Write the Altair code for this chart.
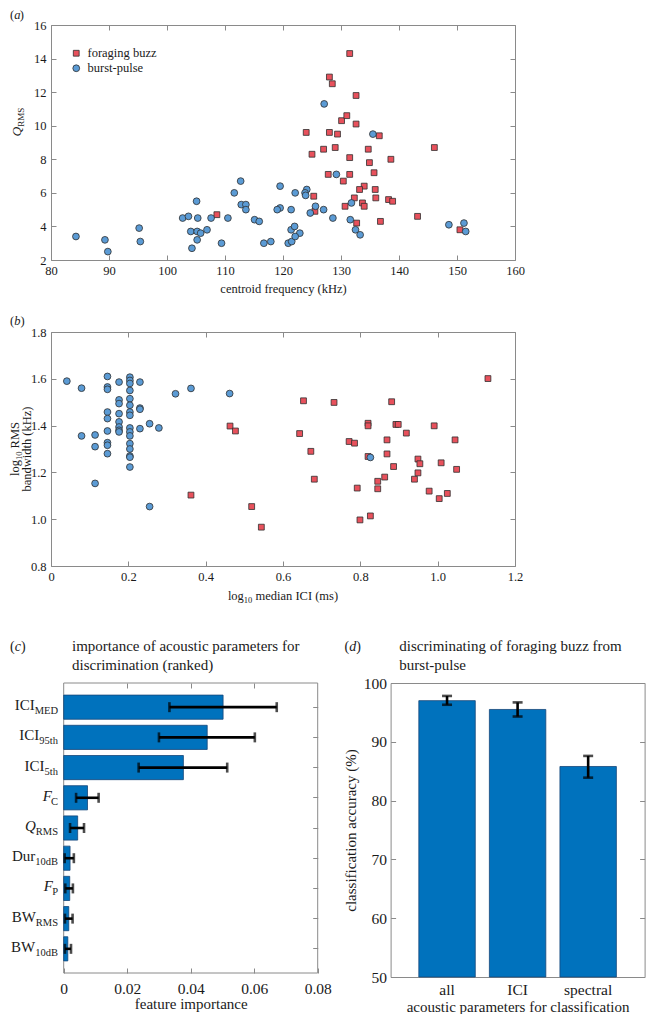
import altair as alt
import pandas as pd

# ---------------- data ----------------
# (a) centroid frequency (kHz) vs Q_RMS
fb_cf = [131.5, 128.0, 128.5, 132.6, 124.0, 128.0, 129.4, 130.1, 131.0, 132.6,
         136.6, 125.0, 127.0, 129.0, 131.5, 134.7, 138.6, 146.1, 134.9, 127.8,
         131.5, 130.4, 135.7, 134.0, 133.2, 135.9, 125.3, 132.3, 136.0, 138.2,
         138.9, 130.7, 133.7, 134.0, 108.6, 125.5, 143.2, 136.8, 132.7, 150.5]
fb_q = [14.3, 12.9, 12.5, 11.8, 9.6, 9.6, 9.5, 10.3, 10.6, 10.1,
        9.4, 8.3, 8.6, 8.7, 8.1, 8.6, 8.0, 8.7, 7.8, 7.1,
        7.1, 6.7, 7.2, 6.4, 6.2, 6.2, 5.8, 5.7, 5.7, 5.6,
        5.5, 5.2, 5.4, 5.2, 4.7, 4.9, 4.6, 4.3, 4.2, 3.8]
bp_cf = [84.3, 89.3, 89.8, 95.2, 95.4, 102.7, 103.7, 105.1, 105.3, 104.1,
         105.2, 105.8, 106.9, 105.2, 104.3, 107.6, 110.5, 109.4, 111.6, 112.7,
         112.8, 113.6, 113.6, 115.1, 115.9, 116.7, 117.9, 119.5, 119.5, 119.0,
         121.4, 122.1, 120.9, 121.5, 121.4, 122.0, 122.9, 122.1, 124.1, 123.8,
         123.9, 125.6, 124.7, 127.0, 128.6, 129.2, 131.8, 131.6, 132.5, 133.3,
         148.6, 151.2, 151.5, 127.1, 135.5]
bp_q = [3.4, 3.2, 2.5, 3.9, 3.1, 4.5, 4.6, 5.5, 4.5, 3.7,
        3.7, 3.6, 3.8, 3.2, 2.7, 4.5, 4.5, 3.0, 6.0, 6.7,
        5.3, 5.3, 5.0, 4.4, 4.3, 3.0, 3.1, 6.4, 5.1, 5.0,
        5.0, 6.0, 3.0, 3.1, 3.8, 4.0, 3.6, 3.4, 6.2, 6.0,
        5.85, 5.2, 4.8, 5.0, 4.5, 7.1, 5.4, 4.4, 3.8, 3.5,
        4.1, 4.2, 3.7, 11.3, 9.5]

# (b) log10 median ICI (ms) vs log10 RMS bandwidth (kHz)
fb_ici = [0.362, 0.463, 0.477, 0.519, 0.544, 0.643, 0.653, 0.672, 0.681, 0.732,
          0.771, 0.785, 0.792, 0.799, 0.820, 0.820, 0.820, 0.826, 0.845, 0.845,
          0.863, 0.869, 0.869, 0.881, 0.886, 0.892, 0.898, 0.919, 0.940, 0.949,
          0.949, 0.954, 0.978, 0.991, 1.004, 1.009, 1.025, 1.045, 1.049, 1.130]
fb_bw = [1.103, 1.398, 1.377, 1.054, 0.966, 1.366, 1.506, 1.290, 1.171, 1.499,
         1.332, 1.325, 1.133, 0.997, 1.410, 1.399, 1.268, 1.014, 1.162, 1.130,
         1.180, 1.339, 1.279, 1.502, 1.225, 1.405, 1.405, 1.368, 1.171, 1.257,
         1.198, 1.237, 1.120, 1.399, 1.088, 1.241, 1.110, 1.339, 1.213, 1.601]
bp_ici = [0.041, 0.079, 0.079, 0.114, 0.114, 0.114,
          0.146, 0.146, 0.146, 0.146, 0.146, 0.146, 0.146, 0.146, 0.146,
          0.176, 0.176, 0.176, 0.176, 0.176, 0.176, 0.176, 0.176,
          0.204, 0.204, 0.204, 0.204, 0.204, 0.204, 0.204, 0.204,
          0.204, 0.204, 0.204, 0.204, 0.204, 0.204, 0.204, 0.204,
          0.230, 0.230, 0.230, 0.230, 0.255, 0.255, 0.279,
          0.322, 0.362, 0.462, 0.826]
bp_bw = [1.590, 1.560, 1.356, 1.360, 1.310, 1.153,
         1.610, 1.565, 1.555, 1.458, 1.430, 1.377, 1.327, 1.316, 1.280,
         1.586, 1.510, 1.494, 1.451, 1.416, 1.394, 1.380, 1.373,
         1.607, 1.593, 1.580, 1.550, 1.515, 1.487, 1.458, 1.444,
         1.390, 1.373, 1.356, 1.323, 1.300, 1.270, 1.265, 1.223,
         1.586, 1.475, 1.470, 1.387, 1.408, 1.054, 1.390,
         1.536, 1.559, 1.537, 1.264]

# (c) feature importance (ranked)
feat_main = ["ICI", "ICI", "ICI", "F", "Q", "Dur", "F", "BW", "BW"]
feat_sub = ["MED", "95th", "5th", "C", "RMS", "10dB", "P", "RMS", "10dB"]
feat_italic = [False, False, False, True, True, False, True, False, False]
imp = [0.0502, 0.0452, 0.0377, 0.0075, 0.0044, 0.0020, 0.0019, 0.0016, 0.0013]
imp_lo = [0.0333, 0.0300, 0.0236, 0.0039, 0.0020, 0.0003, 0.0005, 0.0004, 0.0004]
imp_hi = [0.0671, 0.0602, 0.0515, 0.0110, 0.0064, 0.0032, 0.0029, 0.0028, 0.0023]

# (d) classification accuracy (%)
cls_cat = ["all", "ICI", "spectral"]
acc = [97.0, 95.5, 85.8]
acc_lo = [96.3, 94.3, 83.9]
acc_hi = [97.8, 96.7, 87.6]

TYPES = ["foraging buzz", "burst-pulse"]

# ---------------- style ----------------
SERIF = "Liberation Serif"
RED = "#E8515C"
BLUE = "#5B9BD5"
EDGE = "#2E2E2E"
BAR = "#0072BD"
BAR_EDGE = "#15467A"
AXC = "#8A8A8A"
TXT = "#1A1A1A"

LOWER = dict(a=444, b=500, c=444, d=500, e=444, f=333, g=500, h=500, i=278, j=278,
             k=500, l=278, m=778, n=500, o=500, p=500, q=500, r=333, s=389, t=278,
             u=500, v=500, w=722, x=500, y=500, z=444)
UPPER = dict(A=722, B=667, C=667, D=722, E=611, F=556, G=722, H=722, I=333, J=389,
             K=722, L=611, M=889, N=722, O=722, P=556, Q=722, R=667, S=556, T=611,
             U=722, V=722, W=944, X=722, Y=722, Z=611)
PUNCT = {" ": 250, "(": 333, ")": 333, "%": 833, ".": 250, "-": 333}


def tw(s, size):
    tot = 0
    for ch in s:
        if ch in LOWER:
            tot += LOWER[ch]
        elif ch in UPPER:
            tot += UPPER[ch]
        elif ch.isdigit():
            tot += 500
        else:
            tot += PUNCT.get(ch, 500)
    return tot * size / 1000.0


ONE = pd.DataFrame({"k": [0]})


def rich(segs, x, y, align="left", angle=0):
    """Text made of segments (text, size, dy, italic) laid out one after another."""
    total = sum(tw(t, s) for t, s, _, _ in segs)
    off = {"left": 0.0, "center": -total / 2.0, "right": -total}[align]
    out = []
    cur = off
    for t, s, dy, it in segs:
        lead = len(t) - len(t.lstrip(" "))
        cur += tw(" " * lead, s)
        t = t.lstrip(" ")
        if angle == 0:
            px, py = x + cur, y
        else:
            px, py = x, y - cur
        kw = dict(text=t, font=SERIF, fontSize=s, align="left", baseline="alphabetic",
                  dy=dy, color=TXT)
        if it:
            kw["fontStyle"] = "italic"
        if angle:
            kw["angle"] = angle
        out.append(alt.Chart(ONE).mark_text(**kw).encode(x=alt.value(px), y=alt.value(py)))
        cur += tw(t, s)
    return out


def axis(orient, values=None, title=None, labels=True, size=12.5, lpad=3,
         tsize=12.5, tpad=6, expr=None, fmt=None, ticks=True, tlen=5, angle=None,
         title_x=None):
    kw = dict(orient=orient, domain=False, grid=False, labels=labels, minExtent=0,
              labelFlush=False)
    if values is not None:
        kw["values"] = values
    if ticks:
        kw.update(ticks=True, tickSize=tlen, tickColor=AXC, tickWidth=1, offset=-tlen)
    else:
        kw.update(ticks=False, tickSize=0)
    if labels:
        kw.update(labelFont=SERIF, labelFontSize=size, labelColor=TXT, labelPadding=lpad)
        if expr:
            kw["labelExpr"] = expr
        if fmt:
            kw["format"] = fmt
        if angle is not None:
            kw["labelAngle"] = angle
    if title:
        kw.update(title=title, titleFont=SERIF, titleFontSize=tsize,
                  titleFontWeight="normal", titleColor=TXT, titlePadding=tpad)
        if title_x is not None:
            kw["titleX"] = title_x
    else:
        kw["title"] = None
    return alt.Axis(**kw)


def ghost(orient, values=None):
    return axis(orient, values=values, labels=False)


color_sc = alt.Scale(domain=TYPES, range=[RED, BLUE])
shape_sc = alt.Scale(domain=TYPES, range=["square", "circle"])

# ---------------- panel (a) ----------------
dfa = pd.DataFrame({"cf": fb_cf + bp_cf, "q": fb_q + bp_q,
                    "type": [TYPES[0]] * len(fb_cf) + [TYPES[1]] * len(bp_cf)})
xa = alt.Scale(domain=[80, 160], nice=False, zero=False)
ya = alt.Scale(domain=[2, 16], nice=False, zero=False)
xa_vals = list(range(80, 161, 10))
ya_vals = list(range(2, 17, 2))

leg = alt.Legend(title=None, orient="none", legendX=19, legendY=22, padding=0,
                 labelFont=SERIF, labelFontSize=12.5, labelColor=TXT, labelOffset=5,
                 rowPadding=2, symbolStrokeColor=EDGE, symbolStrokeWidth=0.8,
                 symbolSize=45)

pts_a = alt.Chart(dfa).mark_point(filled=True, opacity=1, stroke=EDGE, strokeWidth=0.8).encode(
    x=alt.X("cf:Q", scale=xa, axis=axis("bottom", xa_vals, title="centroid frequency (kHz)",
            lpad=4, tpad=6)),
    y=alt.Y("q:Q", scale=ya, axis=axis("left", ya_vals, lpad=5)),
    color=alt.Color("type:N", scale=color_sc, legend=leg),
    shape=alt.Shape("type:N", scale=shape_sc, legend=leg),
    size=alt.Size("type:N", scale=alt.Scale(domain=TYPES, range=[34, 46]), legend=None),
)
ghost_a = alt.Chart(dfa).mark_point(opacity=0).encode(
    x=alt.X("cf:Q", scale=xa, axis=ghost("top", xa_vals)),
    y=alt.Y("q:Q", scale=ya, axis=ghost("right", ya_vals)),
)
txt_a = rich([("(", 12.5, 0, False), ("a", 12.5, 0, True), (")", 12.5, 0, False)], -41, -6)
txt_a += rich([("Q", 13.5, 0, True), ("RMS", 9, 3, False)], -30.5, 97, align="center", angle=270)

panel_a = alt.layer(pts_a, ghost_a, *txt_a).resolve_axis(
    x="independent", y="independent").properties(width=464, height=235)

# ---------------- panel (b) ----------------
dfb = pd.DataFrame({"ici": fb_ici + bp_ici, "bw": fb_bw + bp_bw,
                    "type": [TYPES[0]] * len(fb_ici) + [TYPES[1]] * len(bp_ici)})
xb = alt.Scale(domain=[0, 1.2], nice=False, zero=False)
yb = alt.Scale(domain=[0.8, 1.8], nice=False, zero=False)
xb_vals = [0, 0.2, 0.4, 0.6, 0.8, 1.0, 1.2]
yb_vals = [0.8, 1.0, 1.2, 1.4, 1.6, 1.8]

pts_b = alt.Chart(dfb).mark_point(filled=True, opacity=1, stroke=EDGE, strokeWidth=0.8).encode(
    x=alt.X("ici:Q", scale=xb, axis=axis("bottom", xb_vals, lpad=4,
            expr="datum.value == 0 ? '0' : format(datum.value, '.1f')")),
    y=alt.Y("bw:Q", scale=yb, axis=axis("left", yb_vals, lpad=5, fmt=".1f")),
    color=alt.Color("type:N", scale=color_sc, legend=None),
    shape=alt.Shape("type:N", scale=shape_sc, legend=None),
    size=alt.Size("type:N", scale=alt.Scale(domain=TYPES, range=[36, 44]), legend=None),
)
ghost_b = alt.Chart(dfb).mark_point(opacity=0).encode(
    x=alt.X("ici:Q", scale=xb, axis=ghost("top", xb_vals)),
    y=alt.Y("bw:Q", scale=yb, axis=ghost("right", yb_vals)),
)
txt_b = rich([("(", 12.5, 0, False), ("b", 12.5, 0, True), (")", 12.5, 0, False)], -41, -7)
txt_b += rich([("log", 12.5, 0, False), ("10", 8.5, 3, False), (" median ICI (ms)", 12.5, 0, False)],
              232, 268, align="center")
txt_b += rich([("log", 12.5, 0, False), ("10", 8.5, 3, False), (" RMS", 12.5, 0, False)],
              -32, 117, align="center", angle=270)
txt_b += rich([("bandwidth (kHz)", 12.5, 0, False)], -20.5, 117, align="center", angle=270)

panel_b = alt.layer(pts_b, ghost_b, *txt_b).resolve_axis(
    x="independent", y="independent").properties(width=464, height=234)

# ---------------- panel (c) ----------------
# the view is SHIFT px wider on its left than the plot box, so that the box
# sits to the right of the panels above, as in the figure
SHIFT = 12.7
WC, HC = 254.0, 290
feat_id = [m + "_" + s for m, s in zip(feat_main, feat_sub)]
dfc = pd.DataFrame({"feat": feat_id, "imp": imp, "lo": imp_lo, "hi": imp_hi})
xc = alt.Scale(domain=[-0.08 * SHIFT / WC, 0.08], nice=False, zero=False)
yc = alt.Scale(domain=feat_id, paddingInner=0.2, paddingOuter=0.4)
xc_vals = [0, 0.02, 0.04, 0.06, 0.08]
Yc = alt.Y("feat:N", scale=yc, axis=None)

frame_c = alt.Chart(ONE).mark_rect(fillOpacity=0, stroke=AXC, strokeWidth=1).encode(
    x=alt.value(SHIFT), x2=alt.value(SHIFT + WC), y=alt.value(0), y2=alt.value(HC))
bars_c = alt.Chart(dfc).mark_bar(color=BAR, stroke=BAR_EDGE, strokeWidth=0.8).encode(
    x=alt.X("imp:Q", scale=xc, axis=axis("bottom", xc_vals, title="feature importance",
            size=15.5, lpad=8, tsize=15, tpad=0, title_x=SHIFT + WC / 2,
            expr="datum.value == 0 ? '0' : format(datum.value, '.2f')")),
    y=Yc,
)
err_c = alt.Chart(dfc).mark_rule(color="black", strokeWidth=2.6).encode(
    x=alt.X("lo:Q", scale=xc, axis=None), x2="hi:Q", y=Yc)
cap_c1 = alt.Chart(dfc).mark_tick(color="black", thickness=2.6, size=10).encode(
    x=alt.X("lo:Q", scale=xc, axis=None), y=Yc)
cap_c2 = alt.Chart(dfc).mark_tick(color="black", thickness=2.6, size=10).encode(
    x=alt.X("hi:Q", scale=xc, axis=None), y=Yc)
ghost_c = alt.Chart(dfc).mark_point(opacity=0).encode(
    x=alt.X("imp:Q", scale=xc, axis=ghost("top", [0.02, 0.04, 0.06])),
    y=alt.Y("feat:N", scale=yc, axis=ghost("right")),
)

lab_c = []
for fid, m, s, it in zip(feat_id, feat_main, feat_sub, feat_italic):
    wm, ws = tw(m, 15), tw(s, 10.5)
    start = SHIFT - 5.7 - wm - ws
    base = alt.Chart(dfc).transform_filter(alt.datum.feat == fid)
    mk = dict(text=m, font=SERIF, fontSize=15, align="left", baseline="alphabetic", dy=3, color=TXT)
    if it:
        mk["fontStyle"] = "italic"
    lab_c.append(base.mark_text(**mk).encode(x=alt.value(start), y=Yc))
    lab_c.append(base.mark_text(text=s, font=SERIF, fontSize=10.5, align="left",
                                baseline="alphabetic", dy=7, color=TXT).encode(
        x=alt.value(start + wm), y=Yc))

txt_c = rich([("(", 14, 0, False), ("c", 14, 0, True), (")", 14, 0, False)], SHIFT - 53.7, -32)
txt_c += rich([("importance of acoustic parameters for", 15, 0, False)], SHIFT + 8.3, -32)
txt_c += rich([("discrimination (ranked)", 15, 0, False)], SHIFT + 8.3, -13.5)

panel_c = alt.layer(frame_c, bars_c, err_c, cap_c1, cap_c2, ghost_c, *lab_c, *txt_c).resolve_axis(
    x="independent", y="independent").properties(
    width=SHIFT + WC, height=HC, view=alt.ViewBackground(stroke="transparent"))

# ---------------- panel (d) ----------------
dfd = pd.DataFrame({"cls": cls_cat, "acc": acc, "lo": acc_lo, "hi": acc_hi})
xd = alt.Scale(domain=cls_cat, paddingInner=0.2, paddingOuter=0.4)
yd = alt.Scale(domain=[50, 100], nice=False, zero=False)
yd_vals = [50, 60, 70, 80, 90, 100]
Xd = alt.X("cls:N", scale=xd, axis=None)

bars_d = alt.Chart(dfd).mark_bar(color=BAR, stroke=BAR_EDGE, strokeWidth=0.8).encode(
    x=alt.X("cls:N", scale=xd, axis=axis("bottom", title="acoustic parameters for classification",
            size=15.5, lpad=5, tsize=15, tpad=2, ticks=False, angle=0)),
    y=alt.Y("acc:Q", scale=yd, axis=axis("left", yd_vals, title="classification accuracy (%)",
            size=15.5, lpad=4, tsize=15, tpad=5)),
    y2=alt.datum(50),
)
err_d = alt.Chart(dfd).mark_rule(color="black", strokeWidth=2.6).encode(
    x=Xd, y=alt.Y("lo:Q", scale=yd, axis=None), y2="hi:Q")
cap_d1 = alt.Chart(dfd).mark_tick(color="black", thickness=2.6, size=10).encode(
    x=Xd, y=alt.Y("lo:Q", scale=yd, axis=None))
cap_d2 = alt.Chart(dfd).mark_tick(color="black", thickness=2.6, size=10).encode(
    x=Xd, y=alt.Y("hi:Q", scale=yd, axis=None))
ghost_d = alt.Chart(dfd).mark_point(opacity=0).encode(
    x=Xd, y=alt.Y("acc:Q", scale=yd, axis=ghost("right", yd_vals)))

txt_d = rich([("(", 14, 0, False), ("d", 14, 0, True), (")", 14, 0, False)], -46, -32)
txt_d += rich([("discriminating of foraging buzz from", 15, 0, False)], 8.7, -32)
txt_d += rich([("burst-pulse", 15, 0, False)], 8.7, -13.5)

panel_d = alt.layer(bars_d, err_d, cap_d1, cap_d2, ghost_d, *txt_d).resolve_axis(
    x="independent", y="independent").properties(width=254, height=294)

# ---------------- layout ----------------
top = alt.vconcat(panel_a, panel_b, spacing=72, bounds="flush")
row = alt.hconcat(panel_c, panel_d, spacing=72.6, bounds="flush")
chart = alt.vconcat(top, row, spacing=33).properties(
    padding=0).configure(font=SERIF).configure_view(stroke=AXC, strokeWidth=1)

chart.save("out.html", embed_options={"renderer": "svg", "actions": False})
